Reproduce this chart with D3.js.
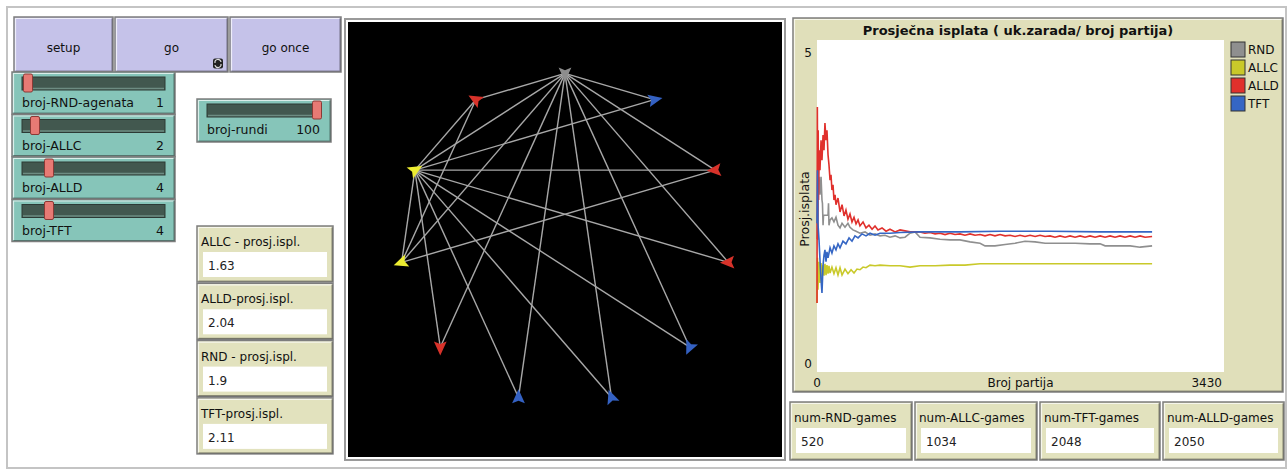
<!DOCTYPE html>
<html><head><meta charset="utf-8">
<script src="https://cdn.jsdelivr.net/npm/d3@7"></script>
<style>
body{margin:0;background:#fff}
svg{display:block;font-family:"DejaVu Sans",sans-serif}
</style>
</head><body><svg id="c" width="1288" height="470"></svg>
<script>
// ---------------- data ----------------
const plotTitle = "Prosječna isplata ( uk.zarada/ broj partija)";
const xAxisLabel = "Broj partija";
const yAxisLabel = "Prosj.isplata";
const xDomain = [0, 3430];
const yDomain = [0, 5];
const seriesNames = ["RND", "ALLC", "ALLD", "TFT"];
const seriesColors = ["#8f8f8f", "#c9c92a", "#e0302c", "#3566c4"];

const rndGames  = [0, 8, 17, 25, 34, 42, 46, 51, 55, 93, 97, 101, 110, 126, 143, 160, 177, 194, 211, 236, 261, 278, 303, 329, 362, 405, 447, 489, 531, 573, 615, 658, 700, 742, 784, 826, 868, 953, 1037, 1121, 1205, 1290, 1374, 1416, 1500, 1585, 1669, 1753, 1838, 1922, 2048, 2175, 2301, 2386, 2428, 2512, 2639, 2723, 2824];
const rndPayoff = [2.0, 2.59, 2.94, 2.67, 2.94, 2.59, 2.54, 2.21, 2.36, 2.36, 2.54, 2.21, 2.29, 2.32, 2.26, 2.33, 2.21, 2.17, 2.24, 2.18, 2.24, 2.18, 2.14, 2.12, 2.09, 2.11, 2.06, 2.08, 2.05, 2.06, 2.03, 2.05, 2.02, 2.03, 2.09, 2.11, 2.03, 2.02, 2.0, 1.99, 1.99, 1.96, 1.94, 1.90, 1.90, 1.92, 1.94, 1.97, 1.96, 1.94, 1.94, 1.94, 1.93, 1.93, 1.90, 1.90, 1.90, 1.88, 1.90];

const allcGames  = [0, 4, 8, 17, 25, 34, 42, 51, 59, 67, 76, 84, 93, 101, 110, 126, 143, 160, 177, 194, 211, 236, 261, 287, 312, 337, 362, 388, 413, 447, 489, 531, 615, 700, 784, 868, 995, 1121, 1247, 1374, 1543, 1964, 2386, 2824];
const allcPayoff = [1.04, 1.72, 1.24, 1.66, 1.34, 1.64, 1.42, 1.61, 1.45, 1.63, 1.46, 1.61, 1.48, 1.60, 1.49, 1.58, 1.48, 1.57, 1.46, 1.57, 1.46, 1.55, 1.48, 1.54, 1.49, 1.55, 1.54, 1.58, 1.57, 1.61, 1.60, 1.61, 1.60, 1.60, 1.58, 1.60, 1.60, 1.61, 1.61, 1.63, 1.63, 1.63, 1.63, 1.63];

const alldGames  = [0, 3, 7, 10, 13, 19, 25, 34, 42, 51, 59, 67, 76, 84, 93, 101, 110, 118, 126, 135, 143, 152, 160, 177, 194, 211, 228, 244, 261, 278, 295, 312, 329, 346, 362, 388, 413, 438, 464, 489, 514, 548, 582, 615, 658, 700, 784, 868, 910, 953, 995, 1037, 1079, 1121, 1163, 1205, 1247, 1290, 1332, 1374, 1416, 1458, 1500, 1543, 1585, 1627, 1669, 1711, 1753, 1796, 1838, 1880, 1922, 1964, 2006, 2048, 2091, 2133, 2175, 2217, 2259, 2301, 2344, 2386, 2428, 2470, 2512, 2554, 2596, 2639, 2681, 2723, 2765, 2824];
const alldPayoff = [1.04, 3.99, 1.99, 3.64, 2.59, 3.34, 3.04, 3.49, 3.19, 3.57, 3.34, 3.75, 3.49, 3.64, 3.27, 3.12, 2.89, 2.97, 2.74, 2.82, 2.59, 2.67, 2.52, 2.62, 2.41, 2.52, 2.35, 2.44, 2.30, 2.38, 2.26, 2.33, 2.23, 2.29, 2.20, 2.26, 2.17, 2.21, 2.15, 2.20, 2.14, 2.17, 2.12, 2.15, 2.11, 2.14, 2.11, 2.11, 2.09, 2.10, 2.08, 2.09, 2.07, 2.09, 2.07, 2.08, 2.06, 2.08, 2.06, 2.07, 2.05, 2.07, 2.05, 2.07, 2.05, 2.06, 2.04, 2.06, 2.04, 2.06, 2.04, 2.06, 2.04, 2.05, 2.03, 2.05, 2.03, 2.05, 2.03, 2.05, 2.03, 2.05, 2.03, 2.05, 2.03, 2.05, 2.03, 2.05, 2.03, 2.05, 2.03, 2.05, 2.03, 2.04];

const tftGames  = [0, 4, 8, 17, 25, 34, 42, 51, 59, 67, 76, 84, 93, 110, 126, 143, 160, 177, 194, 219, 244, 270, 295, 320, 346, 379, 413, 447, 489, 531, 615, 700, 868, 1205, 1543, 1964, 2386, 2824];
const tftPayoff = [2.24, 3.04, 2.24, 1.99, 1.69, 1.39, 1.19, 1.61, 1.76, 1.84, 1.66, 1.81, 1.72, 1.87, 1.79, 1.90, 1.84, 1.93, 1.87, 1.97, 1.93, 2.02, 1.97, 2.05, 2.02, 2.08, 2.05, 2.09, 2.06, 2.09, 2.09, 2.10, 2.11, 2.11, 2.12, 2.12, 2.11, 2.11];

const buttonLabels = ["setup", "go", "go once"];
const sliderNames  = ["broj-RND-agenata", "broj-ALLC", "broj-ALLD", "broj-TFT"];
const sliderValues = [1, 2, 4, 4];
const rundiName = "broj-rundi";
const rundiValue = 100;
const monitorLabels = ["ALLC - prosj.ispl.", "ALLD-prosj.ispl.", "RND - prosj.ispl.", "TFT-prosj.ispl."];
const monitorValues = ["1.63", "2.04", "1.9", "2.11"];
const gameMonitorLabels = ["num-RND-games", "num-ALLC-games", "num-TFT-games", "num-ALLD-games"];
const gameMonitorValues = ["520", "1034", "2048", "2050"];

// agents on the circle, clockwise from the top
const agentBreeds   = ["RND", "TFT", "ALLD", "ALLD", "TFT", "TFT", "TFT", "ALLD", "ALLC", "ALLC", "ALLD"];
const agentHeadings = [180, 78, 265, 268, 205, 340, 0, 180, 250, 60, 300];
const linkPairs = [[0,10],[0,1],[0,2],[0,3],[0,4],[0,5],[0,6],[0,7],[0,8],[0,9],
                   [9,10],[9,1],[9,2],[9,3],[9,4],[9,5],[9,6],[9,7],[9,8],
                   [8,10],[8,2]];

// ---------------- drawing ----------------
const svg = d3.select("#c");
const breedColor = {RND:"#8d8d8d", ALLC:"#eded31", ALLD:"#d7322a", TFT:"#3461c2"};

// outer frame
svg.append("rect").attr("x",7).attr("y",7).attr("width",1279).attr("height",461)
  .attr("fill","#fff").attr("stroke","#c4c4c4").attr("stroke-width",2);

function bevel(g, x, y, w, h, fill){
  g.append("rect").attr("x",x).attr("y",y).attr("width",w).attr("height",h).attr("fill",fill)
    .attr("stroke","#7d7d7d").attr("stroke-width",1.5);
  g.append("path").attr("d",`M${x+1.5},${y+h-1.5}V${y+1.5}H${x+w-1.5}`).attr("fill","none")
    .attr("stroke","rgba(255,255,255,0.7)").attr("stroke-width",1.2);
  g.append("path").attr("d",`M${x+1.5},${y+h-1}H${x+w-1}V${y+1.5}`).attr("fill","none")
    .attr("stroke","rgba(0,0,0,0.35)").attr("stroke-width",1.2);
}

// buttons
const btnX = [14, 115, 230], btnW = [99, 113, 111];
buttonLabels.forEach((b,i)=>{
  const g = svg.append("g");
  bevel(g, btnX[i], 17, btnW[i], 55, "#c5c2e9");
  g.append("text").attr("x", btnX[i]+btnW[i]/2).attr("y", 52).attr("text-anchor","middle")
    .attr("font-size",12).attr("fill","#111").text(b);
});
// forever icon on "go"
{
  const g = svg.append("g").attr("transform","translate(218,63.5)");
  g.append("rect").attr("x",-5).attr("y",-5).attr("width",10).attr("height",10).attr("rx",2).attr("fill","#222");
  g.append("path").attr("d","M-3,-0.5 A3,3 0 0 1 3,-1.5 M3,0.5 A3,3 0 0 1 -3,1.5").attr("fill","none")
    .attr("stroke","#ddd").attr("stroke-width",1.2);
}

// sliders
function slider(x, y, w, h, label, value, min, max){
  const g = svg.append("g");
  bevel(g, x, y, w, h, "#86c5b9");
  const tx0 = x+10, tx1 = x+w-10;
  g.append("rect").attr("x",tx0).attr("y",y+5).attr("width",tx1-tx0).attr("height",13)
    .attr("fill","#42584f").attr("stroke","#2c3a35").attr("stroke-width",1);
  g.append("line").attr("x1",tx0+1).attr("x2",tx1-1).attr("y1",y+16.5).attr("y2",y+16.5)
    .attr("stroke","#6d8c82").attr("stroke-width",1.5);
  const sx = d3.scaleLinear().domain([min,max]).range([tx0+6, tx1-4]);
  g.append("rect").attr("x",sx(value)-4.5).attr("y",y+2).attr("width",9).attr("height",18).attr("rx",1.5)
    .attr("fill","#e77a74").attr("stroke","#8a3a36").attr("stroke-width",1);
  g.append("text").attr("x",x+10).attr("y",y+35).attr("font-size",12.5).attr("fill","#111").text(label);
  g.append("text").attr("x",x+w-11).attr("y",y+35).attr("font-size",12.5).attr("fill","#111")
    .attr("text-anchor","end").text(value);
}
sliderNames.forEach((n,i)=> slider(12, 72+42.5*i, 163, 42, n, sliderValues[i], 1, 20));
slider(197, 99, 134, 43, rundiName, rundiValue, 1, 100);

// monitors
function monitor(x, y, w, h, label, value){
  const g = svg.append("g");
  bevel(g, x, y, w, h, "#e2e2be");
  g.append("text").attr("x",x+4).attr("y",y+20).attr("font-size",12).attr("fill","#111").text(label);
  g.append("rect").attr("x",x+6).attr("y",y+26).attr("width",w-12).attr("height",25).attr("fill","#fff");
  g.append("text").attr("x",x+11).attr("y",y+44).attr("font-size",12).attr("fill","#222").text(value);
}
monitorLabels.forEach((l,i)=> monitor(197, 226+57.3*i, 136, 56, l, monitorValues[i]));
const gmX = [790, 915, 1040, 1163], gmW = [122, 122, 120, 121];
gameMonitorLabels.forEach((l,i)=> monitor(gmX[i], 402, gmW[i], 58, l, gameMonitorValues[i]));

// world view
{
  const g = svg.append("g");
  g.append("rect").attr("x",345).attr("y",19).attr("width",440).attr("height",441)
    .attr("fill","#fff").attr("stroke","#9a9a9a").attr("stroke-width",2);
  g.append("rect").attr("x",348).attr("y",22).attr("width",434).attr("height",435).attr("fill","#000");
  const wx = d3.scaleLinear().domain([-16.5,16.5]).range([348,782]);
  const wy = d3.scaleLinear().domain([16.5,-16.5]).range([22,457]);
  const R = 12.55, n = agentBreeds.length;
  const pos = agentBreeds.map((b,i)=>{
    const a = i*2*Math.PI/n;
    return [R*Math.sin(a), R*Math.cos(a) + 0.05];
  });
  g.selectAll("line.link").data(linkPairs).join("line").attr("class","link")
    .attr("x1",d=>wx(pos[d[0]][0])).attr("y1",d=>wy(pos[d[0]][1]))
    .attr("x2",d=>wx(pos[d[1]][0])).attr("y2",d=>wy(pos[d[1]][1]))
    .attr("stroke","#a8a8a8").attr("stroke-width",1.4);
  g.selectAll("path.turtle").data(agentBreeds).join("path").attr("class","turtle")
    .attr("d","M150,5L40,250L150,205L260,250Z")
    .attr("transform",(d,i)=>`translate(${wx(pos[i][0])},${wy(pos[i][1])}) rotate(${agentHeadings[i]}) scale(0.058) translate(-150,-150)`)
    .attr("fill",d=>breedColor[d]);
}

// plot
{
  const g = svg.append("g");
  bevel(g, 793, 18, 490, 374, "#e0dfba");
  const x = d3.scaleLinear().domain(xDomain).range([817, 1224]);
  const y = d3.scaleLinear().domain(yDomain).range([372, 40]);
  g.append("rect").attr("x",817).attr("y",40).attr("width",407).attr("height",332).attr("fill","#fff");
  g.append("text").attr("x",1018).attr("y",35).attr("text-anchor","middle").attr("font-size",13)
    .attr("font-weight","bold").attr("fill","#111").text(plotTitle);
  // tick labels (min/max only, NetLogo style)
  g.append("text").attr("x",812).attr("y",y(yDomain[1])+17).attr("text-anchor","end").attr("font-size",12).attr("fill","#111").text(yDomain[1]);
  g.append("text").attr("x",812).attr("y",y(yDomain[0])-4).attr("text-anchor","end").attr("font-size",12).attr("fill","#111").text(yDomain[0]);
  g.append("text").attr("x",x(xDomain[0])).attr("y",387).attr("text-anchor","middle").attr("font-size",12).attr("fill","#111").text(xDomain[0]);
  g.append("text").attr("x",x(xDomain[1])-2).attr("y",387).attr("text-anchor","end").attr("font-size",12).attr("fill","#111").text(xDomain[1]);
  g.append("text").attr("x",(x(xDomain[0])+x(xDomain[1]))/2).attr("y",387).attr("text-anchor","middle").attr("font-size",12).attr("fill","#111").text(xAxisLabel);
  g.append("text").attr("transform","translate(808.5,209) rotate(-90)").attr("text-anchor","middle").attr("font-size",12.5).attr("fill","#111").text(yAxisLabel);

  const series = [
    {g: rndGames, v: rndPayoff, c: seriesColors[0]},
    {g: allcGames, v: allcPayoff, c: seriesColors[1]},
    {g: alldGames, v: alldPayoff, c: seriesColors[2]},
    {g: tftGames, v: tftPayoff, c: seriesColors[3]}
  ];
  const line = d3.line().x(d=>x(d[0])).y(d=>y(d[1]));
  series.forEach(s=>{
    g.append("path").attr("d", line(s.g.map((gm,i)=>[gm, s.v[i]])))
      .attr("fill","none").attr("stroke",s.c).attr("stroke-width",1.6);
  });
  // legend
  seriesNames.forEach((nm,i)=>{
    g.append("rect").attr("x",1231).attr("y",42+18*i).attr("width",14).attr("height",15)
      .attr("fill",seriesColors[i]).attr("stroke","#333").attr("stroke-width",1);
    g.append("text").attr("x",1248).attr("y",54+18*i).attr("font-size",12).attr("fill","#111").text(nm);
  });
}
</script>
</body></html>
